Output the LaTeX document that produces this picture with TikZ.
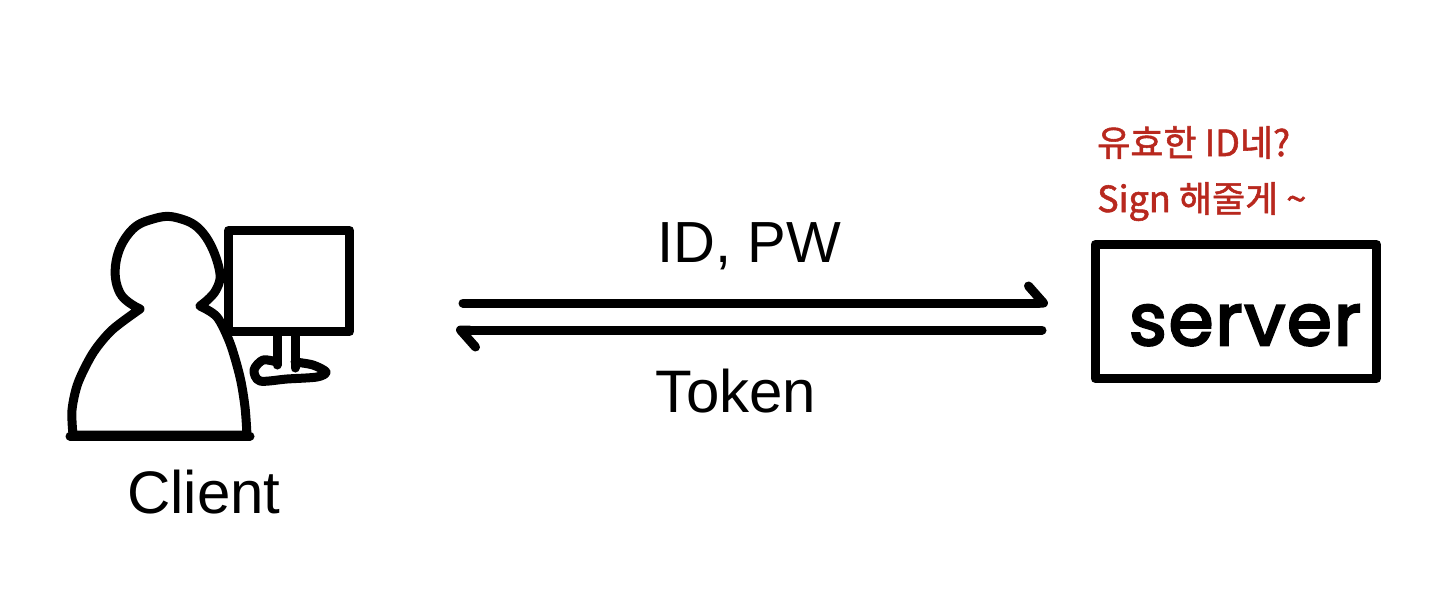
\documentclass[tikz,border=0pt]{standalone}
\usepackage{fontspec}
\setmainfont{Liberation Sans}
\newfontfamily\krfont[FakeBold=1.5]{Noto Sans CJK KR}
\newfontfamily\handfont[FakeBold=3.5,LetterSpace=3]{Poppins}
\usetikzlibrary{arrows.meta}
\definecolor{myred}{HTML}{B8281E}
\tikzset{
	pen/.style={line width=9pt,line cap=round,line join=round},
	label/.style={font=\fontsize{60}{62}\selectfont,inner sep=0pt,anchor=base},
	note/.style={font=\krfont\fontsize{36}{40}\selectfont,text=myred,inner sep=0pt,anchor=base west},
	barb/.style={-{Straight Barb[left,length=15pt,width=34pt,line width=9pt,round]}},
}
\begin{document}
\begin{tikzpicture}[x=1pt,y=-1pt]
		\useasboundingbox (0,0) rectangle (1440,592);
		%% monitor
		\draw[pen] (228.5,230.5) rectangle (349.5,331.5);
		\draw[pen] (277,335) -- (277,365);
		\draw[pen] (295,335) -- (295,368);
		\draw[pen] plot[smooth] coordinates {(277,362) (263,360) (254,370) (260,381) (287,379) (317,377) (326,372) (313,365) (295,362)};
		%% person
		\draw[pen,fill=white] plot[smooth,tension=0.7] coordinates {(200,306) (216,290) (219,268) (203,233) (178,218) (153,219) (130,232) (116,262) (120,293) (140,309)}
			-- plot[smooth] coordinates {(140,309) (112,330) (93,353) (78,383) (72,410) (73,435)}
			-- (247,435)
			-- plot[smooth] coordinates {(247,435) (245,407) (240,377) (230,343) (217,317) (200,306)};
		\draw[pen] (70,436) -- (250,436);
		\node[label] (client) at (204,513) {Client};
		%% server
		\node[pen,draw,minimum width=281.5pt,minimum height=134pt,inner sep=0pt] (server) at (1235.75,311.5) {};
		\node[font=\handfont\fontsize{72}{74}\selectfont,inner sep=0pt,anchor=base] (servertext) at (1245,345) {server};
		\node[note] (note1) at (1097,156) {유효한 ID네?};
		\node[note] (note2) at (1097,212) {Sign 해줄게 \textasciitilde};
		%% arrows
		\coordinate (sendstart) at (463,303);
		\coordinate (sendend) at (1048,303);
		\coordinate (backstart) at (1042,330);
		\coordinate (backend) at (456,330);
		\draw[pen,barb] (sendstart) -- (sendend);
		\draw[pen,barb] (backstart) -- (backend);
		\node[label,font=\fontsize{58}{60}\selectfont] (idpw) at (749,262) {ID, PW};
		\node[label] (token) at (736,412) {Token};
	\end{tikzpicture}
\end{document}
